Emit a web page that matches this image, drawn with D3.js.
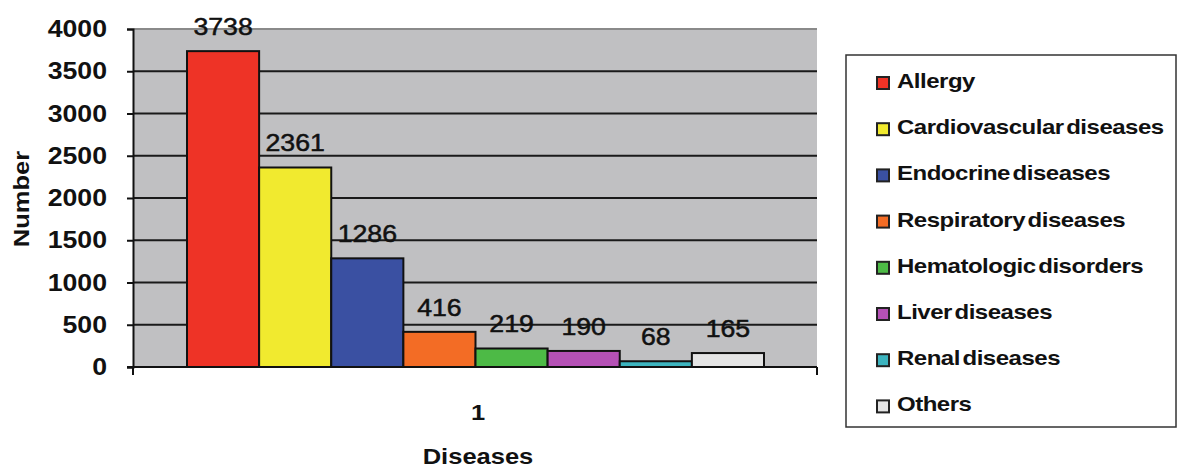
<!DOCTYPE html>
<html>
<head>
<meta charset="utf-8">
<script src="https://cdn.jsdelivr.net/npm/d3@7"></script>
<style>
  body { margin: 0; background: #fff; }
  text { font-family: "Liberation Sans", Arial, sans-serif; fill: #111; }
</style>
</head>
<body>
<svg width="1177" height="469"></svg>
<script>
// data
const categories = ["Allergy", "Cardiovascular diseases", "Endocrine diseases", "Respiratory diseases",
    "Hematologic disorders", "Liver diseases", "Renal diseases", "Others"];
const values = [3738, 2361, 1286, 416, 219, 190, 68, 165];
const colors = ["#ee3326", "#f1ea2f", "#3a50a2", "#f36c25", "#4dba46", "#b551b6", "#3cb4bf", "#e4e4e4"];
const yTicks = [0, 500, 1000, 1500, 2000, 2500, 3000, 3500, 4000];
const groupLabel = "1";

const svg = d3.select("svg"),
    width = +svg.attr("width"),
    height = +svg.attr("height");

const SX = 1.16; // glyphs in the source are wide, stretch along the text direction

const plot = { left: 133, right: 817, top: 29, bottom: 367 };

const y = d3.scaleLinear().domain([0, 4000]).range([plot.bottom, plot.top]);
const x = d3.scaleBand().domain(categories)
    .range([plot.left + 54, plot.right - 53]).paddingInner(0).paddingOuter(0);

// text helper, stretched horizontally
function label(g, tx, ty, str, anchor) {
    return g.append("text")
        .attr("transform", `translate(${tx},${ty}) scale(${SX},1)`)
        .attr("text-anchor", anchor || "middle")
        .text(str);
}

// plot background
svg.append("rect")
    .attr("x", plot.left).attr("y", plot.top)
    .attr("width", plot.right - plot.left).attr("height", plot.bottom - plot.top)
    .attr("fill", "#c0c0c2");

// gridlines
svg.append("g")
    .selectAll("line")
    .data(yTicks.filter(d => d > 0))
    .join("line")
    .attr("x1", plot.left).attr("x2", plot.right)
    .attr("y1", d => y(d)).attr("y2", d => y(d))
    .attr("stroke", d => d === 4000 ? "#8a8a8a" : "#1a1a1a")
    .attr("stroke-width", 2);

// bars
svg.append("g")
    .selectAll("rect")
    .data(values)
    .join("rect")
    .attr("x", (d, i) => x(categories[i]))
    .attr("y", d => y(d))
    .attr("width", x.bandwidth())
    .attr("height", d => y(0) - y(d))
    .attr("fill", (d, i) => colors[i])
    .attr("stroke", "#111")
    .attr("stroke-width", 2);

// value labels
const vl = svg.append("g").style("font-size", "23px")
    .style("stroke", "#111").style("stroke-width", 0.5);
values.forEach((v, i) => {
    label(vl, x(categories[i]) + x.bandwidth() / 2, y(v) - 16, v);
});

// y axis
const yAxis = svg.append("g")
    .attr("transform", `translate(${plot.left},0)`)
    .call(d3.axisLeft(y).tickValues(yTicks).tickSize(6).tickFormat(""));
yAxis.select(".domain").attr("stroke", "#111").attr("stroke-width", 2);
yAxis.selectAll(".tick line").attr("stroke", "#111").attr("stroke-width", 2);

const yl = svg.append("g").style("font-size", "23px").style("font-weight", "bold");
yTicks.forEach(t => {
    label(yl, plot.left - 26, y(t) + 8, t, "end");
});

// x axis line
svg.append("line")
    .attr("x1", plot.left - 6).attr("x2", plot.right)
    .attr("y1", y(0)).attr("y2", y(0))
    .attr("stroke", "#111").attr("stroke-width", 2);
svg.append("g")
    .selectAll("line")
    .data([plot.left, plot.right])
    .join("line")
    .attr("x1", d => d).attr("x2", d => d)
    .attr("y1", y(0)).attr("y2", y(0) + 8)
    .attr("stroke", "#111").attr("stroke-width", 2);

const xl = svg.append("g").style("font-size", "22px").style("font-weight", "bold");
label(xl, (plot.left + plot.right) / 2 + 3, 420, groupLabel);
label(xl, (plot.left + plot.right) / 2 + 3, 464, "Diseases");

// y axis title
svg.append("text")
    .attr("transform", `translate(29,${(plot.top + plot.bottom) / 2 + 1}) rotate(-90) scale(${SX},1)`)
    .attr("text-anchor", "middle")
    .style("font-size", "22px").style("font-weight", "bold")
    .text("Number");

// legend
const legend = svg.append("g");
legend.append("rect")
    .attr("x", 846).attr("y", 55)
    .attr("width", 330).attr("height", 372)
    .attr("fill", "#fff").attr("stroke", "#333").attr("stroke-width", 1.5);

const item = legend.selectAll(".item")
    .data(categories)
    .join("g")
    .attr("class", "item")
    .attr("transform", (d, i) => `translate(877,${88 + i * 46.2})`);

item.append("rect")
    .attr("x", 0).attr("y", -11)
    .attr("width", 12).attr("height", 12)
    .attr("fill", (d, i) => colors[i])
    .attr("stroke", "#222").attr("stroke-width", 2);

item.append("text")
    .attr("transform", `translate(20,0) scale(1.2,1)`)
    .style("font-size", "20px")
    .style("font-weight", "bold")
    .style("letter-spacing", "-0.4px")
    .style("word-spacing", "-3px")
    .text(d => d);
</script>
</body>
</html>
